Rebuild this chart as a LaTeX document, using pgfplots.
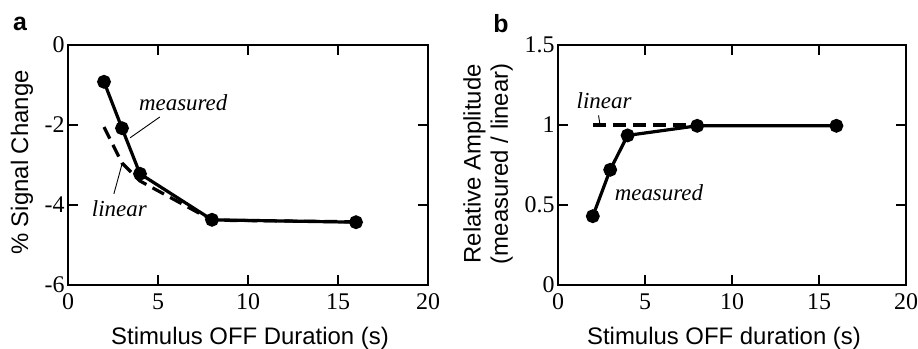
\documentclass[border=0pt]{standalone}
\usepackage{fontspec}
\setmainfont{Liberation Serif}
\setsansfont{Liberation Sans}
\usepackage{pgfplots}
\pgfplotsset{compat=1.18}
\pgfplotsset{
  myax/.style={
    scale only axis, width=360bp, height=240bp, anchor=south west,
    xmin=0, xmax=20, xtick={0,5,10,15,20},
    tick align=inside, major tick length=10bp,
    axis line style={line width=1.1bp}, every tick/.style={line width=1.1bp, black},
    /pgf/number format/assume math mode=true,
    tick label style={font=\fontsize{24}{26}\selectfont},
    xticklabel style={yshift=-5bp},
    label style={font=\sffamily\fontsize{24}{27}\selectfont},
    clip=false,
  },
  meas/.style={black, line width=3.2bp, mark=*, mark size=5.3bp, mark options={solid}},
  lin/.style={black, line width=3.2bp, dash pattern=on 13bp off 7bp},
}
\begin{document}
\begin{tikzpicture}
\useasboundingbox (0,0) rectangle (918bp,349bp);
\begin{axis}[myax, at={(68bp,64bp)}, width=360bp,
  ymin=-6, ymax=0, ytick={-6,-4,-2,0},
  ylabel style={at={(axis description cs:-0.1278,0.51)}, anchor=center},
  xlabel style={at={(axis description cs:0.5,0)}, anchor=center, yshift=-53bp, xshift=2bp},
  xlabel={Stimulus OFF Duration (s)}, ylabel={\% Signal Change}]
\addplot[lin] coordinates {(2,-2.05) (3,-2.95) (4,-3.4) (8,-4.38) (16,-4.42)};
\addplot[meas] coordinates {(2,-0.92) (3,-2.08) (4,-3.22) (8,-4.37) (16,-4.43)};
\node[font=\itshape\fontsize{23}{25}\selectfont] at (axis cs:6.4,-1.45) {measured};
\draw[line width=0.9bp] (axis cs:5.1,-1.8) -- (axis cs:3.45,-2.32);
\node[font=\itshape\fontsize{23}{25}\selectfont] at (axis cs:2.85,-4.08) {linear};
\draw[line width=0.9bp] (axis cs:2.55,-3.72) -- (axis cs:3.0,-2.98);
\end{axis}
\begin{axis}[myax, at={(558bp,64bp)}, width=348bp,
  ymin=0, ymax=1.5, ytick={0,0.5,1,1.5}, yticklabels={0,0.5,1,1.5},
  ylabel style={at={(axis description cs:-0.2011,0.505)}, anchor=center},
  xlabel style={at={(axis description cs:0.5,0)}, anchor=center, yshift=-53bp, xshift=-8bp},
  xlabel={Stimulus OFF duration (s)}, ylabel={\shortstack{Relative Amplitude\\[2bp](measured / linear)}}]
\addplot[lin] coordinates {(2,1.0) (8,1.0)};
\addplot[meas] coordinates {(2,0.43) (3,0.72) (4,0.935) (8,0.995) (16,0.995)};
\node[font=\itshape\fontsize{23}{25}\selectfont] at (axis cs:2.65,1.15) {linear};
\draw[line width=0.9bp] (axis cs:2.33,1.06) -- (axis cs:2.43,0.99);
\node[font=\itshape\fontsize{23}{25}\selectfont] at (axis cs:5.8,0.58) {measured};
\end{axis}
\node[font=\sffamily\bfseries\fontsize{25}{27}\selectfont] at (20bp,325bp) {a};
\node[font=\sffamily\bfseries\fontsize{25}{27}\selectfont] at (501bp,325bp) {b};
\end{tikzpicture}
\end{document}
